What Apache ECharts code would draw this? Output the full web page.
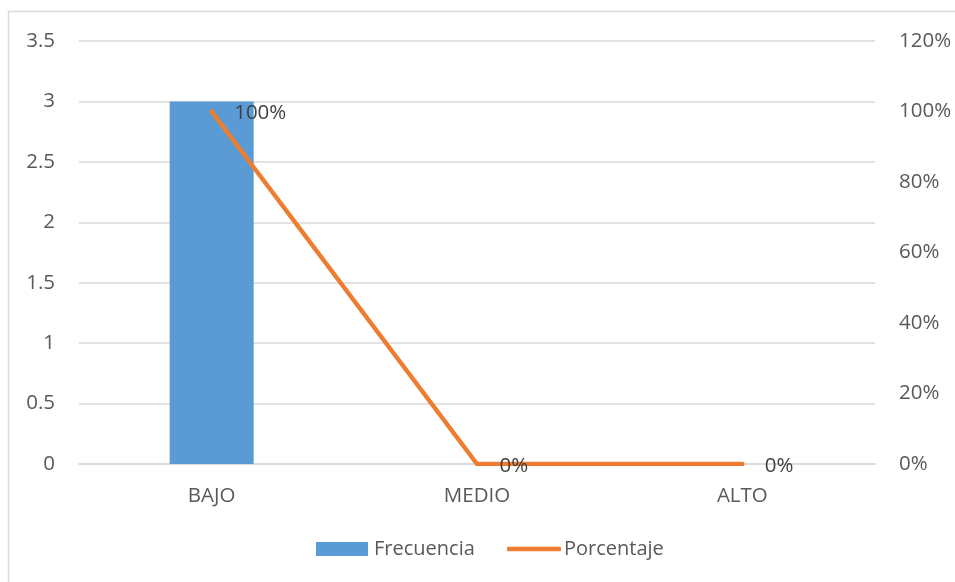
<!DOCTYPE html>
<html>
<head>
<meta charset="utf-8">
<script src="https://cdn.jsdelivr.net/npm/echarts@6/dist/echarts.min.js"></script>
<style>
  html, body { margin: 0; padding: 0; background: #fff; }
  #chart { width: 955px; height: 582px; }
</style>
</head>
<body>
<div id="chart"></div>
<script>
// Categories and series values
const categories = ['BAJO', 'MEDIO', 'ALTO'];
const frecuencia = [3, 0, 0];
const porcentaje = [1, 0, 0];   // fractions, shown as percentages

const FONT = '"Open Sans", sans-serif';
const TEXT = '#595959';
const GRID_LINE = '#D9D9D9';
const BLUE = '#5B9BD5';
const ORANGE = '#ED7D31';
const pct = v => Math.round(v * 100) + '%';

const legendText = { fontFamily: FONT, fontSize: 20, color: TEXT };

const chart = echarts.init(document.getElementById('chart'), null, { renderer: 'canvas' });

chart.setOption({
  animation: false,
  backgroundColor: '#ffffff',
  textStyle: { fontFamily: FONT },
  graphic: [{
    type: 'rect',
    shape: { x: 8.5, y: 11.5, width: 1000, height: 1000 },
    style: { fill: 'none', stroke: GRID_LINE, lineWidth: 1.5 },
    silent: true,
    z: -10
  }],
  grid: { left: 79, right: 80, top: 41, bottom: 118, containLabel: false },
  // one legend per entry so the bar swatch and the line swatch can differ in height
  legend: [
    {
      top: 539, left: 316, padding: 0,
      itemWidth: 52, itemHeight: 14, itemGap: 0,
      textStyle: Object.assign({ padding: [0, 0, 0, 1] }, legendText),
      data: [{ name: 'Frecuencia', icon: 'rect' }]
    },
    {
      top: 539, left: 507, padding: 0,
      itemWidth: 54, itemHeight: 4.5, itemGap: 0,
      textStyle: Object.assign({ padding: [0, 0, 0, -2] }, legendText),
      data: [{ name: 'Porcentaje', icon: 'roundRect' }]
    }
  ],
  xAxis: {
    type: 'category',
    data: categories,
    boundaryGap: true,
    axisLine: { show: true, lineStyle: { color: GRID_LINE, width: 1.5 } },
    axisTick: { show: false },
    axisLabel: { fontFamily: FONT, fontSize: 20.5, color: TEXT, margin: 22 }
  },
  yAxis: [
    {
      type: 'value',
      min: 0, max: 3.5, interval: 0.5,
      axisLine: { show: false },
      axisTick: { show: false },
      axisLabel: { fontFamily: FONT, fontSize: 20.5, color: TEXT, margin: 24 },
      splitLine: { show: true, lineStyle: { color: GRID_LINE, width: 1.5 } }
    },
    {
      type: 'value',
      min: 0, max: 1.2, interval: 0.2,
      axisLine: { show: false },
      axisTick: { show: false },
      axisLabel: { fontFamily: FONT, fontSize: 20.5, color: TEXT, margin: 24, formatter: pct },
      splitLine: { show: false }
    }
  ],
  series: [
    {
      name: 'Frecuencia',
      type: 'bar',
      data: frecuencia,
      barWidth: 84,
      itemStyle: { color: BLUE },
      z: 2
    },
    {
      name: 'Porcentaje',
      type: 'line',
      yAxisIndex: 1,
      data: porcentaje,
      symbol: 'circle',
      symbolSize: 1,
      showSymbol: true,
      itemStyle: { color: ORANGE },
      lineStyle: { color: ORANGE, width: 4.5, cap: 'round', join: 'round' },
      label: {
        show: true,
        position: 'right',
        distance: 22,
        offset: [0, 2],
        formatter: p => pct(p.value),
        fontFamily: FONT,
        fontSize: 20.5,
        color: '#404040'
      },
      z: 3
    }
  ]
});
</script>
</body>
</html>
